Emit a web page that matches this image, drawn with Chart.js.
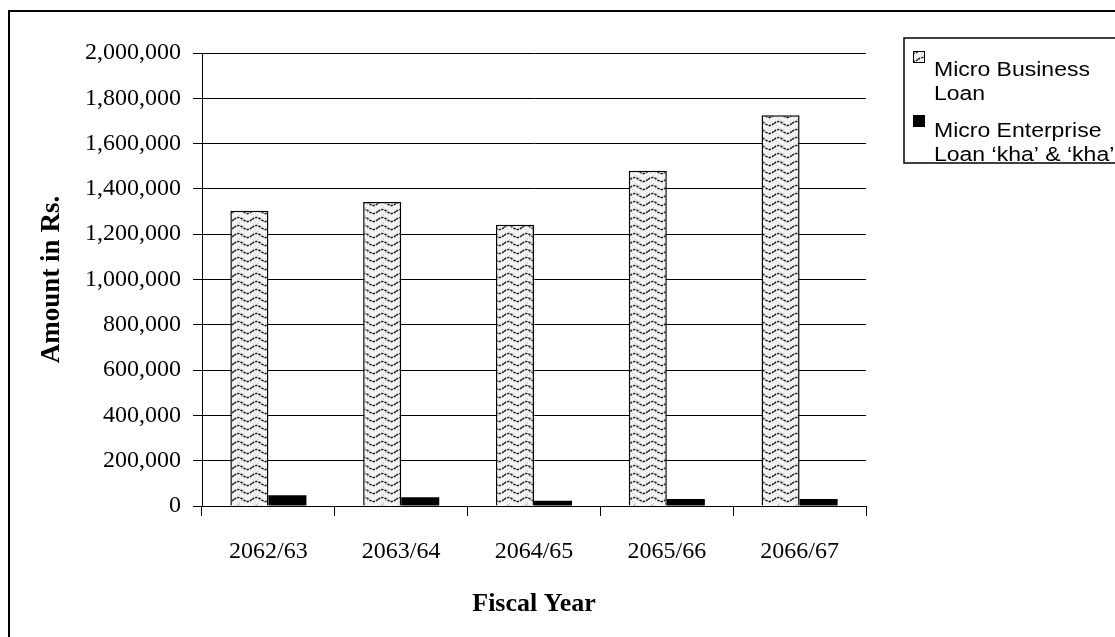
<!DOCTYPE html>
<html>
<head>
<meta charset="utf-8">
<script src="https://cdn.jsdelivr.net/npm/chart.js@4"></script>
<style>
  html, body { margin: 0; padding: 0; background: #fff; }
  #wrap { width: 1115px; height: 637px; position: relative; }
</style>
</head>
<body>
<div id="wrap"><canvas id="chart" width="1115" height="637"></canvas></div>
<script>
// Loan amounts (Rs.) by fiscal year
const fiscalYears = ['2062/63', '2063/64', '2064/65', '2065/66', '2066/67'];
const microBusinessLoan = [1304000, 1342000, 1242000, 1480000, 1725000];
const microEnterpriseLoan = [48000, 39000, 23000, 31000, 31000];
const seriesNames = ['Micro Business Loan', 'Micro Enterprise Loan ‘kha’ & ‘kha’'];
const legendLines = [['Micro Business', 'Loan'], ['Micro Enterprise', 'Loan ‘kha’ & ‘kha’']];
const yTickLabels = ['0', '200,000', '400,000', '600,000', '800,000', '1,000,000',
                     '1,200,000', '1,400,000', '1,600,000', '1,800,000', '2,000,000'];

const SERIF = '"Liberation Serif", "Times New Roman", serif';
const SANS = '"Liberation Sans", Arial, sans-serif';

// Wavy light-gray fill used for the Micro Business Loan bars
function wavePattern() {
  const t = document.createElement('canvas');
  t.width = 18; t.height = 8;
  const g = t.getContext('2d');
  g.fillStyle = '#f4f4f4';
  g.fillRect(0, 0, 18, 8);
  g.fillStyle = '#c8c8c8';
  [[1, 1], [5, 7], [9, 1], [13, 6], [16, 2], [7, 4], [3, 5], [11, 4]].forEach(([x, y]) => g.fillRect(x, y, 1, 1));
  g.strokeStyle = '#222';
  g.lineWidth = 1.5;
  g.setLineDash([2.5, 1]);
  g.beginPath();
  for (let x = 0; x <= 18; x += 0.5) {
    const y = 3.5 - 2 * Math.sin((x / 18) * Math.PI * 2);
    if (x === 0) g.moveTo(x, y); else g.lineTo(x, y);
  }
  g.stroke();
  return g.createPattern(t, 'repeat');
}

const ctx = document.getElementById('chart').getContext('2d');
const waveFill = wavePattern();

// Outer frame around the whole figure
const framePlugin = {
  id: 'frame',
  afterDraw(chart) {
    const c = chart.ctx;
    c.save();
    c.strokeStyle = '#000';
    c.lineWidth = 2;
    c.strokeRect(9, 11, 1200, 700);
    c.restore();
  }
};

// Boxed legend with wrapped labels on the right
const boxLegend = {
  id: 'boxLegend',
  afterDraw(chart) {
    const c = chart.ctx;
    c.save();
    c.strokeStyle = '#000';
    c.lineWidth = 1.5;
    c.strokeRect(904, 38, 300, 125);
    c.beginPath();
    c.rect(905, 39, 300, 123);
    c.clip();
    const fills = [waveFill, '#000'];
    const rows = [51, 115];
    const base = [[76, 100], [137, 161]];
    chart.data.datasets.forEach((ds, i) => {
      const y0 = rows[i];
      c.fillStyle = fills[i];
      c.fillRect(913, y0, 12, 12);
      c.strokeStyle = '#000';
      c.lineWidth = 1;
      c.strokeRect(913.5, y0 + 0.5, 11, 11);
      c.fillStyle = '#000';
      c.font = '20px ' + SANS;
      c.textBaseline = 'alphabetic';
      legendLines[i].forEach((line, k) => {
        c.save();
        c.translate(934, base[i][k]);
        c.scale(1.15, 1);
        c.fillText(line, 0, 0);
        c.restore();
      });
    });
    c.restore();
  }
};

new Chart(ctx, {
  type: 'bar',
  data: {
    labels: fiscalYears,
    datasets: [
      {
        label: seriesNames[0],
        data: microBusinessLoan,
        backgroundColor: waveFill,
        borderColor: '#000',
        borderWidth: 1.5,
        categoryPercentage: 0.573,
        barPercentage: 1.0
      },
      {
        label: seriesNames[1],
        data: microEnterpriseLoan,
        backgroundColor: '#000',
        borderColor: '#000',
        borderWidth: 0,
        categoryPercentage: 0.573,
        barPercentage: 1.0
      }
    ]
  },
  options: {
    responsive: false,
    animation: false,
    devicePixelRatio: 1,
    layout: { padding: { top: 53, right: 249, bottom: 0, left: 0 } },
    plugins: {
      legend: { display: false },
      tooltip: { enabled: false }
    },
    scales: {
      x: {
        grid: { display: true, drawOnChartArea: false, drawTicks: true, tickLength: 10, color: '#000', lineWidth: 1, offset: true },
        border: { display: true, color: '#000', width: 1 },
        ticks: { color: '#000', font: { family: SERIF, size: 24 }, padding: 21 },
        title: { display: true, text: 'Fiscal Year', color: '#000', font: { family: SERIF, size: 26, weight: 'bold' }, padding: { bottom: 17 } },
        afterFit(scale) { scale.height = 131; }
      },
      y: {
        min: 0,
        max: 2000000,
        grid: { color: '#000', lineWidth: 1, tickLength: 9, drawTicks: true },
        border: { display: true, color: '#000', width: 1 },
        ticks: {
          stepSize: 200000,
          color: '#000',
          font: { family: SERIF, size: 24 },
          padding: 12,
          callback: (v, i) => yTickLabels[i]
        },
        title: { display: true, text: 'Amount in Rs.', color: '#000', font: { family: SERIF, size: 27, weight: 'bold' }, padding: { top: 36 } },
        afterFit(scale) { scale.width = 202; }
      }
    }
  },
  plugins: [framePlugin, boxLegend]
});
</script>
</body>
</html>
